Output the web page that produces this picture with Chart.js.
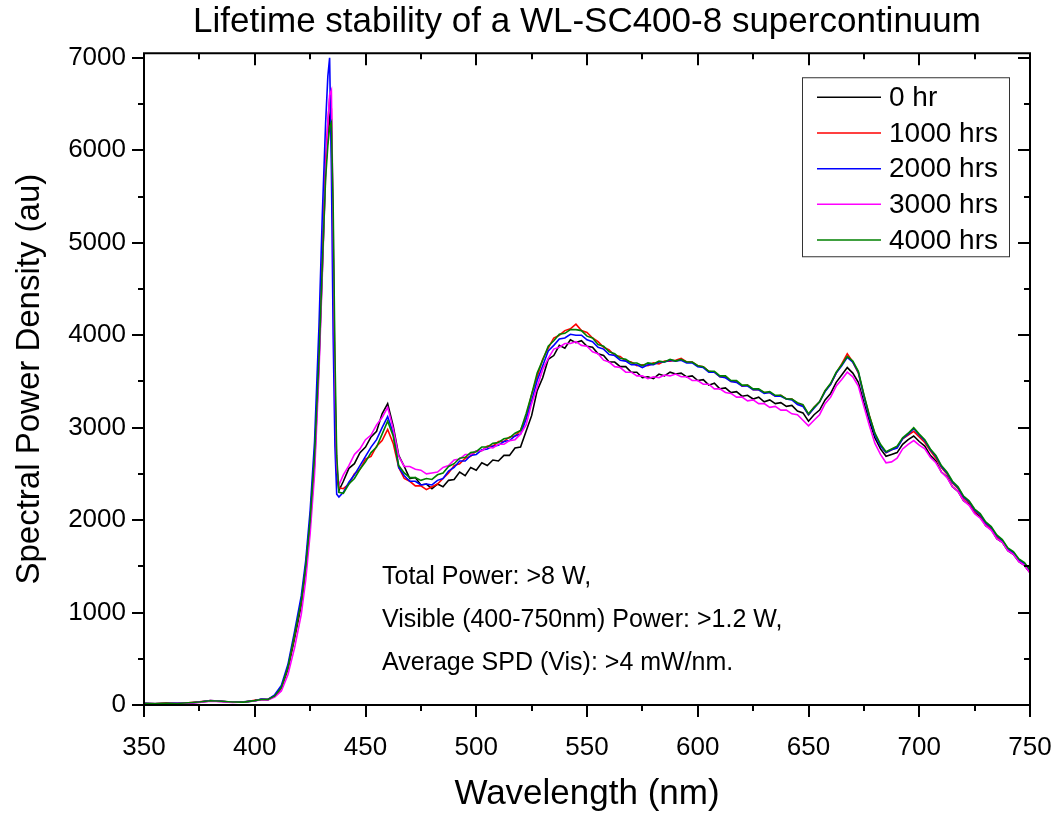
<!DOCTYPE html>
<html><head><meta charset="utf-8">
<script src="https://cdn.jsdelivr.net/npm/chart.js@4.4.0/dist/chart.umd.min.js"></script>
<style>html,body{margin:0;padding:0;background:#fff;}#wrap{width:1058px;height:816px;}</style>
</head><body><div id="wrap"><canvas id="c" width="1058" height="816"></canvas></div>
<script>
const wavelengths = [
350,355,360,365,370,375,380,385,390,395,400,403,406,409,412,415,418,421,423,425,427,429,430.5,432,433,433.8,434.6,435.4,436.2,437,438,
440,442.5,445,447.5,450,452.5,455,457.5,460,462.5,
465,467.5,470,472.5,475,477.5,480,482.5,485,487.5,
490,492.5,495,497.5,500,502.5,505,507.5,510,512.5,
515,517.5,520,522.5,525,527.5,530,532.5,535,537.5,
540,542.5,545,547.5,550,552.5,555,557.5,560,562.5,
565,567.5,570,572.5,575,577.5,580,582.5,585,587.5,
590,592.5,595,597.5,600,602.5,605,607.5,610,612.5,
615,617.5,620,622.5,625,627.5,630,632.5,635,637.5,
640,642.5,645,647.5,650,652.5,655,657.5,660,662.5,
665,667.5,670,672.5,675,677.5,680,682.5,685,687.5,
690,692.5,695,697.5,700,702.5,705,707.5,710,712.5,
715,717.5,720,722.5,725,727.5,730,732.5,735,737.5,
740,742.5,745,747.5,750];

const hr0 = [
15,12,18,15,22,30,45,38,32,30,48,62,58,95,180,390,720,1080,1450,1950,2600,3700,4700,5800,6150,6350,6200,4900,3300,2500,2320,
2420,2560,2610,2730,2790,2900,2960,3150,3260,3020,
2700,2580,2450,2460,2380,2390,2340,2390,2360,2430,
2440,2520,2480,2570,2540,2620,2590,2650,2640,2700,
2700,2780,2790,2960,3130,3400,3540,3740,3780,3890,
3860,3950,3920,3940,3880,3870,3800,3780,3710,3710,
3660,3660,3600,3600,3540,3550,3530,3580,3560,3600,
3580,3590,3550,3560,3510,3520,3460,3480,3420,3430,
3380,3390,3340,3350,3310,3330,3280,3300,3260,3270,
3230,3240,3180,3160,3070,3140,3190,3300,3370,3490,
3570,3650,3590,3490,3270,3070,2890,2770,2690,2710,
2730,2820,2870,2910,2850,2800,2700,2640,2520,2470,
2360,2310,2210,2170,2080,2040,1940,1900,1800,1760,
1670,1630,1550,1510,1430];

const hr1000 = [
18,14,20,16,25,34,48,40,30,33,50,60,62,100,190,410,750,1120,1500,2000,2700,3800,4850,5900,6300,6550,6450,5000,3400,2550,2350,
2340,2390,2500,2550,2660,2690,2800,2860,2980,2830,
2570,2450,2420,2370,2370,2330,2360,2390,2450,2510,
2590,2610,2670,2690,2750,2750,2800,2800,2850,2850,
2900,2910,2970,3110,3360,3550,3740,3860,3970,4000,
4050,4070,4120,4050,4030,3970,3930,3870,3840,3780,
3770,3720,3710,3670,3680,3670,3700,3690,3720,3720,
3730,3750,3710,3710,3670,3660,3610,3600,3550,3550,
3500,3500,3450,3460,3410,3410,3380,3380,3340,3350,
3310,3310,3260,3240,3140,3220,3280,3400,3470,3590,
3690,3800,3710,3590,3350,3130,2930,2810,2730,2760,
2790,2880,2920,2960,2900,2840,2750,2670,2570,2500,
2400,2340,2240,2190,2100,2050,1960,1910,1820,1770,
1690,1640,1560,1520,1440];

const hr2000 = [
18,14,16,20,18,32,48,40,30,34,45,65,60,110,210,440,800,1180,1560,2100,2850,4100,5300,6300,6800,7000,5800,4000,2800,2280,2250,
2300,2410,2490,2590,2690,2790,2870,3000,3120,2940,
2570,2480,2420,2420,2380,2390,2380,2430,2450,2530,
2570,2640,2640,2700,2710,2760,2770,2800,2810,2850,
2860,2910,2930,3090,3290,3510,3670,3830,3890,3960,
3970,4010,4000,4000,3950,3930,3870,3850,3790,3780,
3730,3720,3680,3680,3650,3680,3680,3710,3710,3730,
3720,3730,3700,3700,3660,3650,3600,3600,3550,3540,
3500,3490,3450,3450,3410,3410,3370,3380,3340,3340,
3310,3300,3250,3230,3140,3210,3280,3390,3470,3590,
3670,3760,3710,3600,3340,3110,2920,2800,2730,2760,
2780,2880,2930,2990,2920,2860,2760,2690,2580,2510,
2410,2350,2250,2200,2110,2060,1970,1920,1830,1780,
1690,1650,1570,1530,1450];

const hr3000 = [
12,16,14,18,20,28,42,36,28,32,44,58,55,85,150,330,620,980,1350,1850,2500,3600,4650,5750,6300,6600,6650,5200,3500,2600,2380,
2490,2590,2710,2770,2870,2920,3030,3110,3220,2990,
2690,2580,2580,2550,2540,2500,2510,2520,2570,2590,
2650,2660,2710,2710,2750,2750,2790,2780,2820,2820,
2860,2870,2930,3030,3260,3440,3630,3750,3850,3870,
3910,3910,3930,3890,3880,3820,3800,3730,3710,3660,
3650,3600,3600,3560,3560,3530,3550,3540,3570,3560,
3580,3550,3550,3510,3510,3470,3470,3420,3420,3380,
3370,3330,3330,3290,3300,3260,3260,3220,3230,3190,
3190,3150,3140,3080,3020,3080,3140,3260,3330,3450,
3520,3600,3550,3450,3230,3020,2830,2710,2620,2630,
2670,2770,2820,2860,2810,2770,2680,2620,2520,2460,
2360,2310,2210,2160,2070,2020,1940,1890,1800,1760,
1670,1630,1550,1510,1430];

const hr4000 = [
16,15,18,17,24,33,46,40,33,31,47,60,60,98,190,410,760,1120,1500,2000,2700,3750,4750,5700,6050,6250,6300,5400,3800,2700,2300,
2290,2390,2450,2550,2630,2730,2790,2930,3070,2910,
2590,2510,2460,2460,2430,2450,2440,2490,2510,2580,
2610,2670,2680,2730,2740,2790,2790,2830,2840,2880,
2890,2940,2970,3150,3360,3590,3730,3880,3940,4010,
4020,4060,4060,4050,3990,3970,3900,3880,3820,3800,
3750,3740,3700,3700,3670,3700,3690,3720,3710,3740,
3720,3740,3710,3710,3670,3660,3610,3610,3560,3560,
3510,3510,3460,3460,3420,3420,3380,3390,3350,3350,
3310,3310,3270,3250,3150,3220,3280,3400,3480,3600,
3680,3770,3720,3610,3360,3130,2940,2820,2740,2770,
2800,2890,2940,3000,2930,2870,2770,2700,2590,2520,
2420,2360,2260,2210,2120,2070,1980,1930,1840,1790,
1700,1660,1580,1540,1460];

const seriesLabels = ['0 hr','1000 hrs','2000 hrs','3000 hrs','4000 hrs'];
const seriesColors = ['#000000','#ff0000','#0000ff','#ff00ff','#008000'];
const seriesValues = [hr0, hr1000, hr2000, hr3000, hr4000];
const xMajorTicks = [350,400,450,500,550,600,650,700,750];
const xMinorTicks = [375,425,475,525,575,625,675,725];
const yMajorTicks = [0,1000,2000,3000,4000,5000,6000,7000];
const yMinorTicks = [500,1500,2500,3500,4500,5500,6500];
const titleText = 'Lifetime stability of a WL-SC400-8 supercontinuum';
const xTitle = 'Wavelength (nm)';
const yTitle = 'Spectral Power Density (au)';
const notes = ['Total Power: >8 W,', 'Visible (400-750nm) Power: >1.2 W,', 'Average SPD (Vis): >4 mW/nm.'];

const FONT = '"Liberation Sans", Arial, Helvetica, sans-serif';

const datasets = seriesValues.map((vals, k) => ({
  label: seriesLabels[k],
  data: wavelengths.map((w, i) => ({x: w, y: vals[i]})),
  borderColor: seriesColors[k],
  backgroundColor: seriesColors[k],
  borderWidth: 1.6,
  pointRadius: 0,
  tension: 0,
  order: seriesValues.length - 1 - k
}));

const framePlugin = {
  id: 'frame',
  afterDatasetsDraw(chart) {
    const {ctx, chartArea: a, scales: {x, y}} = chart;
    ctx.save();
    ctx.strokeStyle = '#000';
    ctx.lineWidth = 2;
    ctx.strokeRect(a.left, a.top, a.right - a.left, a.bottom - a.top);
    ctx.beginPath();
    const tk = (list, len) => {
      list.forEach(v => {
        const px = Math.round(x.getPixelForValue(v));
        ctx.moveTo(px, a.bottom); ctx.lineTo(px, a.bottom + len);
        ctx.moveTo(px, a.top); ctx.lineTo(px, a.top + len);
      });
    };
    const tky = (list, len) => {
      list.forEach(v => {
        const py = Math.round(y.getPixelForValue(v));
        ctx.moveTo(a.left, py); ctx.lineTo(a.left - len, py);
        ctx.moveTo(a.right, py); ctx.lineTo(a.right - len, py);
      });
    };
    tk(xMajorTicks, 12); tk(xMinorTicks, 6);
    tky(yMajorTicks, 12); tky(yMinorTicks, 6);
    ctx.stroke();

    // notes
    ctx.fillStyle = '#000';
    ctx.font = '25px ' + FONT;
    ctx.textBaseline = 'middle';
    ctx.textAlign = 'left';
    notes.forEach((t, i) => ctx.fillText(t, a.left + 238, a.top + 524 + i * 43));

    // legend
    const lx = a.right - 228, ly = a.top + 24, lw = 207, lh = 179;
    ctx.fillStyle = '#fff';
    ctx.fillRect(lx, ly, lw, lh);
    ctx.strokeStyle = '#333';
    ctx.lineWidth = 1;
    ctx.strokeRect(lx + 0.5, ly + 0.5, lw, lh);
    ctx.font = '28px ' + FONT;
    chart.data.datasets.forEach((d, i) => {
      const cy = ly + 20 + i * 35.7;
      ctx.strokeStyle = d.borderColor;
      ctx.lineWidth = 1.5;
      ctx.beginPath();
      ctx.moveTo(lx + 15, cy);
      ctx.lineTo(lx + 79, cy);
      ctx.stroke();
      ctx.fillStyle = '#000';
      ctx.fillText(d.label, lx + 87, cy + 1);
    });
    ctx.restore();
  }
};

new Chart(document.getElementById('c'), {
  type: 'line',
  data: { datasets },
  plugins: [framePlugin],
  options: {
    responsive: false,
    animation: false,
    devicePixelRatio: 1,
    layout: { padding: { top: 0, right: 28, left: 0, bottom: 0 } },
    plugins: {
      legend: { display: false },
      tooltip: { enabled: false },
      title: {
        display: true, text: titleText, fullSize: false,
        color: '#000', font: { family: FONT, size: 35, weight: 'normal', lineHeight: 1.15 },
        padding: { top: 2, bottom: 11 }
      }
    },
    scales: {
      x: {
        type: 'linear', min: 350, max: 750,
        afterBuildTicks: s => { s.ticks = xMajorTicks.map(v => ({value: v})); },
        afterFit: s => { s.height = 111; s.paddingLeft = 0; s.paddingRight = 0; },
        grid: { display: true, drawOnChartArea: false, drawTicks: true, tickLength: 12, color: 'rgba(0,0,0,0)' },
        border: { display: false },
        ticks: { color: '#000', font: { family: FONT, size: 26 }, padding: 15, maxRotation: 0, callback: v => String(v) },
        title: { display: true, text: xTitle, color: '#000', font: { family: FONT, size: 35 }, padding: { top: 0, bottom: 1 } }
      },
      y: {
        type: 'linear', min: 0, max: 7050,
        afterBuildTicks: s => { s.ticks = yMajorTicks.map(v => ({value: v})); },
        afterFit: s => { s.width = 144; s.paddingTop = 0; s.paddingBottom = 0; },
        grid: { display: true, drawOnChartArea: false, drawTicks: true, tickLength: 12, color: 'rgba(0,0,0,0)' },
        border: { display: false },
        ticks: { color: '#000', font: { family: FONT, size: 26 }, padding: 6, callback: v => String(v) },
        title: { display: true, text: yTitle, color: '#000', font: { family: FONT, size: 33 }, padding: { top: 10, bottom: 0 } }
      }
    }
  }
});
</script></body></html>
